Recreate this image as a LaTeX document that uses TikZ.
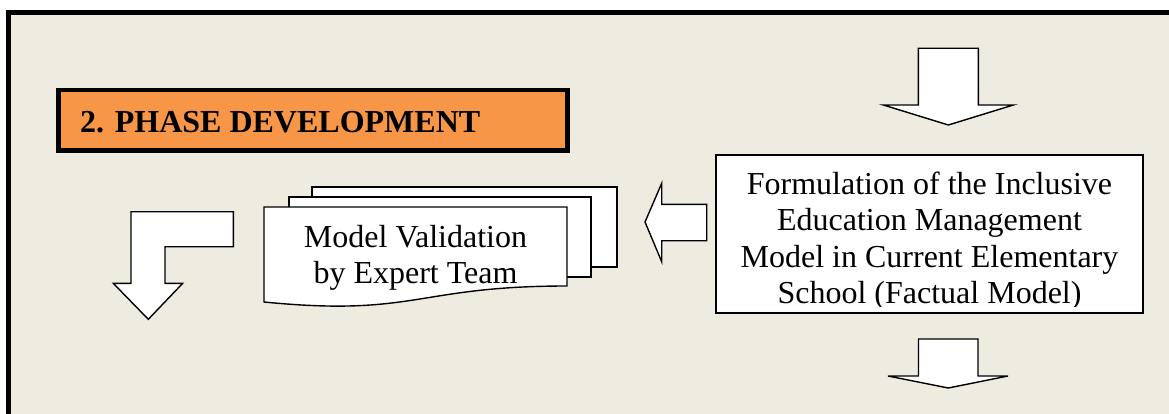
\documentclass[tikz,border=0pt]{standalone}
\usepackage{fontspec}
\setmainfont{Liberation Serif}
\definecolor{panelbg}{HTML}{EEECE1}
\definecolor{phaseorange}{HTML}{F79646}
\tikzset{
  x=1pt, y=-1pt,
  blockarrow/.style={draw=black, fill=white, line width=1.4pt, line join=miter},
  page/.style={draw=black, fill=white, line width=1.4pt},
  bodytext/.style={inner sep=0pt, anchor=base, font=\fontsize{32}{36.5}\selectfont},
  titletext/.style={inner sep=0pt, anchor=base west, font=\fontsize{32}{36.5}\selectfont\bfseries},
}
\begin{document}
\begin{tikzpicture}
\useasboundingbox (0,0) rectangle (1169,414);
\clip (0,0) rectangle (1169,414);
\fill[white] (0,0) rectangle (1169,414);

% phase panel
\draw[line width=5pt, fill=panelbg] (8.2,12.5) rectangle (1200,450);

% phase title
\node[draw=black, line width=4.5pt, fill=phaseorange, minimum width=509, minimum height=60.5, inner sep=0pt] (title) at (312.75,120.5) {};
\node[titletext] (titlelabel) at (80,133) {2. PHASE DEVELOPMENT};

% arrow into the formulation step
\draw[blockarrow] (918.3,48.3) -- (978.3,48.3) -- (978.3,105) -- (1013.3,105) -- (948.3,125) -- (883.3,105) -- (918.3,105) -- cycle;

% formulation step
\node[draw=black, line width=2pt, fill=white, minimum width=427, minimum height=158, inner sep=0pt] (form) at (929.5,234) {};
\begin{scope}
  \clip (717,156) rectangle (1142,306);
  \node[bodytext] (form1) at (929.5,194) {Formulation of the Inclusive};
  \node[bodytext] (form2) at (929.5,230.5) {Education Management};
  \node[bodytext] (form3) at (929.5,267) {Model in Current Elementary};
  \node[bodytext] (form4) at (929.5,303.5) {School (Factual Model)};
\end{scope}

% arrow out of the formulation step
\draw[blockarrow] (918.5,339) -- (978,339) -- (978,376) -- (1008,376) -- (948.3,388) -- (888,376) -- (918.5,376) -- cycle;

% arrow towards validation
\draw[blockarrow] (706.7,204.3) -- (661.7,204.3) -- (661.7,183.3) -- (645,222) -- (661.7,261.7) -- (661.7,240.7) -- (706.7,240.7) -- cycle;

% validation documents
\draw[page] (312,187) rectangle (617,267);
\draw[page] (289,197) rectangle (591,277);
\draw[page] (264,207) -- (567,207) -- (567,286) .. controls (416,286) and (416,317) .. (264,302) -- cycle;
\node[bodytext] (valid1) at (415.5,247) {Model Validation};
\node[bodytext] (valid2) at (415.5,283) {by Expert Team};

% bent arrow to the next phase
\draw[blockarrow] (233.3,211.7) -- (131,211.7) -- (131,283.3) -- (113.3,283.3) -- (148.3,319.3) -- (182.7,283.3) -- (165,283.3) -- (165,246.7) -- (233.3,246.7) -- cycle;
\end{tikzpicture}
\end{document}
